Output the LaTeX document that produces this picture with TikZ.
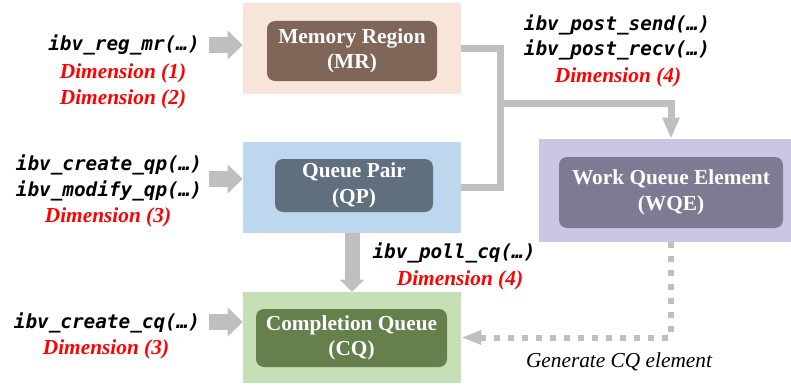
\documentclass[tikz,border=0pt]{standalone}
\usepackage{fontspec}
\setmainfont{Liberation Serif}
\newfontfamily\codefont{DejaVu Sans Mono}
\usetikzlibrary{arrows.meta}

\definecolor{mrback}{HTML}{F8E5D9}
\definecolor{mrfront}{HTML}{7F6659}
\definecolor{qpback}{HTML}{BDD7EE}
\definecolor{qpfront}{HTML}{5F6F7E}
\definecolor{wqeback}{HTML}{CBC6E4}
\definecolor{wqefront}{HTML}{7F7A93}
\definecolor{cqback}{HTML}{C5E0B4}
\definecolor{cqfront}{HTML}{65804D}
\definecolor{arrowgray}{HTML}{BFBFBF}

\begin{document}
\begin{tikzpicture}[x=0.75pt,y=-0.75pt]
        \tikzset{outerbox/.style={minimum width=163.5pt, minimum height=68.25pt, inner sep=0pt},
                 innerbox/.style={rounded corners=6pt, inner sep=0pt, text=white, align=center,
                                  font=\fontsize{16}{19}\selectfont\bfseries},
                 apicall/.style={inner sep=1pt, font=\fontsize{14.5}{17}\selectfont\codefont\bfseries\itshape},
                 dimlabel/.style={inner sep=1pt, text=red, font=\fontsize{16}{19}\selectfont\bfseries\itshape},
                 blockarrow/.style={draw=arrowgray, line width=12pt, -{Triangle[length=11.25pt, width=21pt]}},
                 link/.style={draw=arrowgray, line width=5.25pt},
                 dotlink/.style={draw=arrowgray, line width=4.5pt, dash pattern=on 4.5pt off 6pt,
                                 -{Triangle[length=15pt, width=10pt]}}}
        \useasboundingbox (0,0) rectangle (791,385);

        % the four blocks
        \node [outerbox, fill=mrback] (mrout) at (352,48.5) {};
        \node [innerbox, fill=mrfront, minimum width=127.5pt, minimum height=45pt] (mrin) at (352,51) {Memory Region\\(MR)};
        \node [outerbox, fill=qpback] (qpout) at (352,187.5) {};
        \node [innerbox, fill=qpfront, minimum width=118.5pt, minimum height=39.75pt] (qpin) at (354,185.5) {Queue Pair\\(QP)};
        \node [outerbox, fill=wqeback, minimum width=189pt, minimum height=77.25pt] (wqeout) at (665,190.5) {};
        \node [innerbox, fill=wqefront, minimum width=168pt, minimum height=53.25pt] (wqein) at (671,192.5) {Work Queue Element\\(WQE)};
        \node [outerbox, fill=cqback] (cqout) at (352,337.5) {};
        \node [innerbox, fill=cqfront, minimum width=143.25pt, minimum height=43.5pt] (cqin) at (351.5,338) {Completion Queue\\(CQ)};

        % verbs and dimensions
        \node [apicall] (regmr) at (124,45) {ibv\_reg\_mr(…)};
        \node [dimlabel] (dimone) at (123,73) {Dimension (1)};
        \node [dimlabel] (dimtwo) at (123,99) {Dimension (2)};
        \node [apicall] (createqp) at (109,165) {ibv\_create\_qp(…)};
        \node [apicall] (modifyqp) at (109,191) {ibv\_modify\_qp(…)};
        \node [dimlabel] (dimthreeqp) at (108,217) {Dimension (3)};
        \node [apicall] (createcq) at (107,323) {ibv\_create\_cq(…)};
        \node [dimlabel] (dimthreecq) at (106,349) {Dimension (3)};
        \node [apicall] (postsend) at (617,25) {ibv\_post\_send(…)};
        \node [apicall] (postrecv) at (617,50) {ibv\_post\_recv(…)};
        \node [dimlabel] (dimfourpost) at (618,77) {Dimension (4)};
        \node [apicall] (pollcq) at (454,253) {ibv\_poll\_cq(…)};
        \node [dimlabel] (dimfourpoll) at (460,280) {Dimension (4)};
        \node [font=\fontsize{16}{19}\selectfont\itshape] (gencq) at (619,362) {Generate CQ element};

        % arrows
        \coordinate (mrfrom) at (209,45);
        \coordinate (qpfrom) at (209,179);
        \coordinate (cqfrom) at (209,322);
        \coordinate (bend) at (500,0);
        \coordinate (split) at (500,103);
        \draw [blockarrow] (mrfrom) -- (mrfrom -| mrout.west);
        \draw [blockarrow] (qpfrom) -- (qpfrom -| qpout.west);
        \draw [blockarrow] (cqfrom) -- (cqfrom -| cqout.west);
        \draw [blockarrow, -{Triangle[length=9pt, width=18pt]}, line width=11.25pt] (qpout.south) -- (cqout.north);
        \draw [link] (mrout.east) -| (bend |- qpout.east) -- (qpout.east);
        \draw [link, -{Triangle[length=15.75pt, width=12pt]}] (split) -| (wqein |- wqeout.north);
        \draw [dotlink] (wqein |- wqeout.south) |- (cqout.east);
    \end{tikzpicture}
\end{document}
